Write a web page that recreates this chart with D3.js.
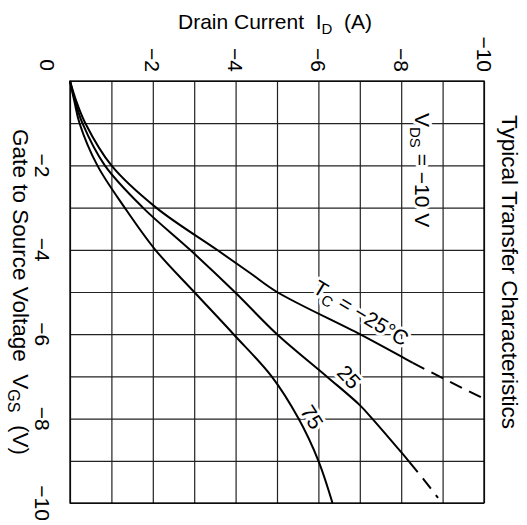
<!DOCTYPE html>
<html>
<head>
<meta charset="utf-8">
<script src="https://cdn.jsdelivr.net/npm/d3@7"></script>
<style>
  body { margin: 0; background: #fff; }
  text { font-family: "Liberation Sans", Arial, sans-serif; fill: #000; white-space: pre; }
</style>
</head>
<body>
<svg id="chart" width="527" height="525"></svg>
<script>
// tick labels on both axes (the shared 0 sits at the corner)
const idTicks = [-2, -4, -6, -8, -10];
const vgsTicks = [-2, -4, -6, -8, -10];
const gridSteps = [0, -1, -2, -3, -4, -5, -6, -7, -8, -9, -10];

// Tc = -25 C
const vgsM25 = [0, -0.5, -1, -2, -3, -4, -4.55, -5, -6, -6.54, -6.68];
const idM25 = [0, -0.16, -0.37, -1.0, -2.08, -3.55, -4.35, -5.0, -7.0, -8.02, -8.28];
const vgsM25Dash = [-6.68, -7.1, -7.52];
const idM25Dash = [-8.28, -9.12, -9.98];

// Tc = 25 C
const vgs25 = [0, -0.5, -1, -2, -3, -4, -5, -6, -7, -7.68, -8, -8.82, -9.03];
const id25 = [0, -0.13, -0.30, -0.84, -1.76, -2.9, -3.98, -5.0, -6.2, -7.0, -7.3, -8.02, -8.2];
const vgs25Dash = [-9.03, -9.45, -9.88];
const id25Dash = [-8.2, -8.55, -8.89];

// Tc = 75 C
const vgs75 = [0, -0.5, -1, -2, -3, -4, -5, -6, -7, -8, -9, -10];
const id75 = [0, -0.11, -0.23, -0.66, -1.32, -2.06, -3.0, -3.95, -4.87, -5.52, -6.0, -6.34];

const svg = d3.select("#chart");

//The chart is drawn turned a quarter turn: drain current runs across, gate voltage runs down
const x = d3.scaleLinear().domain([0, -10]).range([70, 484]);
const y = d3.scaleLinear().domain([0, -10]).range([81, 503]);

//Grid lines every 1 unit
svg.append("g")
    .attr("transform", `translate(0,${y(0)})`)
    .call(d3.axisTop(x).tickValues(gridSteps).tickSize(-(y(-10) - y(0))).tickFormat(""))
    .call(g => g.select(".domain").remove())
    .selectAll("line").attr("stroke", "#222").attr("stroke-width", 1.2);

svg.append("g")
    .attr("transform", `translate(${x(0)},0)`)
    .call(d3.axisLeft(y).tickValues(gridSteps).tickSize(-(x(-10) - x(0))).tickFormat(""))
    .call(g => g.select(".domain").remove())
    .selectAll("line").attr("stroke", "#222").attr("stroke-width", 1.2);

svg.append("rect")
    .attr("x", x(0)).attr("y", y(0))
    .attr("width", x(-10) - x(0)).attr("height", y(-10) - y(0))
    .attr("fill", "none").attr("stroke", "#000").attr("stroke-width", 1.3);

//Curves
const line = d3.line()
    .x(d => x(d[1]))
    .y(d => y(d[0]))
    .curve(d3.curveCatmullRom.alpha(0.5));

const curves = [
    { v: vgsM25, i: idM25, dash: null },
    { v: vgsM25Dash, i: idM25Dash, dash: "13,8" },
    { v: vgs25, i: id25, dash: null },
    { v: vgs25Dash, i: id25Dash, dash: "13,8" },
    { v: vgs75, i: id75, dash: null }
];

svg.selectAll("path.curve")
    .data(curves)
    .enter()
    .append("path")
    .attr("class", "curve")
    .attr("d", d => line(d3.zip(d.v, d.i)))
    .attr("fill", "none")
    .attr("stroke", "#000")
    .attr("stroke-width", 2)
    .attr("stroke-dasharray", d => d.dash);

const fs = 21;

//Drain current tick labels along the top, turned
svg.selectAll("text.idtick")
    .data(idTicks)
    .enter()
    .append("text")
    .attr("class", "idtick")
    .attr("transform", d => `translate(${x(d) - 7.5},72) rotate(90)`)
    .attr("text-anchor", "end")
    .attr("font-size", fs)
    .text(d => "\u2212" + Math.abs(d));

//Gate voltage tick labels down the left, turned
svg.selectAll("text.vtick")
    .data(vgsTicks)
    .enter()
    .append("text")
    .attr("class", "vtick")
    .attr("transform", d => `translate(35,${y(d)}) rotate(90)`)
    .attr("text-anchor", "middle")
    .attr("font-size", fs)
    .text(d => "\u2212" + Math.abs(d));

//Shared zero at the corner
svg.append("text")
    .attr("transform", "translate(40,71) rotate(90)")
    .attr("text-anchor", "end")
    .attr("font-size", fs)
    .text("0");

//Axis titles
const idTitle = svg.append("text")
    .attr("x", 275).attr("y", 29)
    .attr("text-anchor", "middle")
    .attr("font-size", fs);
idTitle.append("tspan").text("Drain Current  I");
idTitle.append("tspan").attr("font-size", 15).attr("dy", 5).text("D");
idTitle.append("tspan").attr("dy", -5).text("  (A)");

const vTitle = svg.append("text")
    .attr("transform", "translate(13,292) rotate(90)")
    .attr("text-anchor", "middle")
    .attr("font-size", 22.5);
vTitle.append("tspan").text("Gate to Source Voltage  V");
vTitle.append("tspan").attr("font-size", 16).attr("dy", 5).text("GS");
vTitle.append("tspan").attr("dy", -5).text("  (V)");

svg.append("text")
    .attr("transform", "translate(502,272) rotate(90)")
    .attr("text-anchor", "middle")
    .attr("font-size", 22.5)
    .text("Typical Transfer Characteristics");

//Labels inside the plot, with a white halo that breaks the grid
function halo(t) {
    t.attr("stroke", "#fff").attr("stroke-width", 6).attr("paint-order", "stroke")
     .attr("stroke-linejoin", "round");
}

const vds = svg.append("text")
    .attr("transform", "translate(415,113) rotate(90)")
    .attr("font-size", fs)
    .call(halo);
vds.append("tspan").text("V");
vds.append("tspan").attr("font-size", 15).attr("dy", 5).text("DS");
vds.append("tspan").attr("dy", -5).text(" = \u221210 V");

const tc = svg.append("text")
    .attr("transform", "translate(361,313) rotate(31)")
    .attr("text-anchor", "middle")
    .attr("font-size", fs)
    .call(halo);
tc.append("tspan").attr("dy", "0.35em").text("T");
tc.append("tspan").attr("font-size", 15).attr("dy", 5).text("C");
tc.append("tspan").attr("dy", -5).text(" = \u221225\u00b0C");

svg.append("text")
    .attr("transform", "translate(349,377) rotate(47)")
    .attr("text-anchor", "middle")
    .attr("dy", "0.35em")
    .attr("font-size", fs)
    .call(halo)
    .text("25");

svg.append("text")
    .attr("transform", "translate(312,417) rotate(58)")
    .attr("text-anchor", "middle")
    .attr("dy", "0.35em")
    .attr("font-size", fs)
    .call(halo)
    .text("75");
</script>
</body>
</html>
